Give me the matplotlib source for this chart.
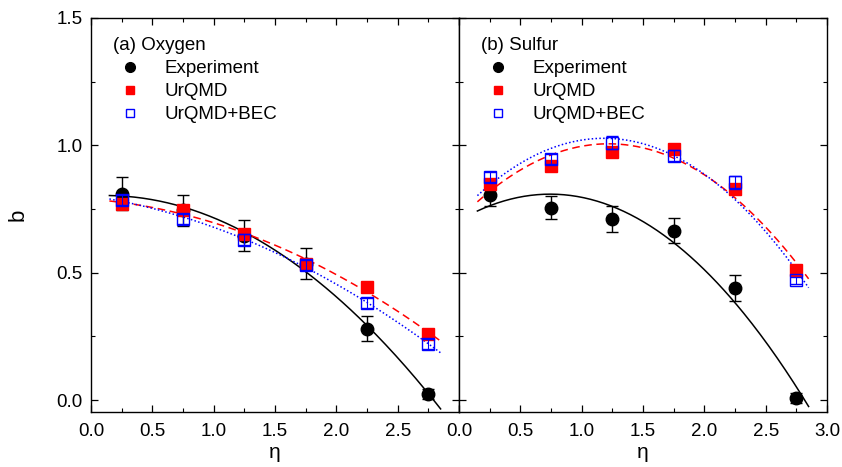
import numpy as np
import matplotlib
matplotlib.use("Agg")
import matplotlib.pyplot as plt
from matplotlib.lines import Line2D
from matplotlib.ticker import MultipleLocator

plt.rcParams['font.family'] = ['Liberation Sans', 'DejaVu Sans']

eta = [0.25, 0.75, 1.25, 1.75, 2.25, 2.75]

# (a) Oxygen
o_exp = [0.81, 0.745, 0.645, 0.535, 0.28, 0.025]
o_exp_err = [0.065, 0.06, 0.06, 0.06, 0.05, 0.02]
o_urqmd = [0.77, 0.745, 0.65, 0.535, 0.445, 0.26]
o_urqmd_err = [0.012, 0.012, 0.012, 0.012, 0.012, 0.012]
o_bec = [0.785, 0.71, 0.63, 0.53, 0.38, 0.22]
o_bec_err = [0.02, 0.02, 0.02, 0.02, 0.02, 0.02]

# (b) Sulfur
s_exp = [0.805, 0.755, 0.71, 0.665, 0.44, 0.008]
s_exp_err = [0.045, 0.045, 0.05, 0.05, 0.05, 0.02]
s_urqmd = [0.85, 0.92, 0.975, 0.985, 0.83, 0.51]
s_urqmd_err = [0.015, 0.015, 0.02, 0.02, 0.02, 0.02]
s_bec = [0.875, 0.945, 1.01, 0.96, 0.855, 0.47]
s_bec_err = [0.02, 0.02, 0.025, 0.02, 0.025, 0.015]

fit_range = (0.15, 2.85)

fig = plt.figure(figsize=(8.42, 4.67), dpi=100)
axL = fig.add_axes([91/842, 1-412/467, 368/842, 394/467])
axR = fig.add_axes([459/842, 1-412/467, 368/842, 394/467])

panels = [
    (axL, "(a) Oxygen", o_exp, o_exp_err, o_urqmd, o_urqmd_err, o_bec, o_bec_err),
    (axR, "(b) Sulfur", s_exp, s_exp_err, s_urqmd, s_urqmd_err, s_bec, s_bec_err),
]

xf = np.linspace(fit_range[0], fit_range[1], 200)
for ax, title, ex, exe, ur, ure, be, bee in panels:
    # fit curves (quadratic fits to each series)
    for y, ls, c, lw in [(ex, '-', 'black', 1.1), (ur, (0, (5, 3)), 'red', 1.1), (be, (0, (1, 1.5)), 'blue', 1.1)]:
        p = np.polyfit(eta, y, 2)
        ax.plot(xf, np.polyval(p, xf), ls=ls, color=c, lw=lw, zorder=2)
    ax.errorbar(eta, ex, yerr=exe, fmt='o', color='black', ms=9, capsize=4,
                elinewidth=1, capthick=1, zorder=3)
    ax.errorbar(eta, ur, yerr=ure, fmt='s', color='red', ms=8.5, capsize=4,
                elinewidth=1, capthick=1, zorder=4)
    ax.errorbar(eta, be, yerr=bee, fmt='s', color='blue', mfc='none', mec='blue',
                mew=1.0, ms=8, capsize=4, elinewidth=0.8, capthick=0.8, zorder=5)

    ax.set_xlim(0, 3.0)
    ax.set_ylim(-0.047, 1.5)
    ax.xaxis.set_major_locator(MultipleLocator(0.5))
    ax.xaxis.set_minor_locator(MultipleLocator(0.25))
    ax.yaxis.set_major_locator(MultipleLocator(0.5))
    ax.yaxis.set_minor_locator(MultipleLocator(0.25))
    ax.tick_params(which='both', direction='in', top=True, right=True, labelsize=13.5)
    ax.tick_params(which='major', length=5, width=0.9)
    ax.tick_params(which='minor', length=3, width=0.8)
    ax.tick_params(axis='x', pad=8)
    ax.tick_params(axis='y', pad=6)
    for s in ax.spines.values():
        s.set_linewidth(1.0)
    ax.set_xlabel("η", fontsize=15, labelpad=2)

    handles = [
        Line2D([], [], ls='none', marker='o', color='black', ms=7),
        Line2D([], [], ls='none', marker='s', color='red', ms=6),
        Line2D([], [], ls='none', marker='s', mfc='none', mec='blue', mew=1.0, ms=6),
    ]
    leg = ax.legend(handles, ["Experiment", "UrQMD", "UrQMD+BEC"], title=title,
                    loc='upper left', frameon=False, fontsize=13.5, title_fontsize=13.5,
                    alignment='left', handlelength=1.73, handletextpad=1.0,
                    labelspacing=0.32, borderaxespad=0.3, bbox_to_anchor=(0.025, 0.985))

axL.set_xticks([0.0, 0.5, 1.0, 1.5, 2.0, 2.5, 3.0])
axL.set_xticklabels(["0.0", "0.5", "1.0", "1.5", "2.0", "2.5", ""])
axL.set_yticks([0.0, 0.5, 1.0, 1.5])
axL.set_yticklabels(["0.0", "0.5", "1.0", "1.5"])
axR.set_yticklabels([])
axL.set_ylabel("b", fontsize=16, labelpad=20)

fig.savefig("out.png", dpi=100)
